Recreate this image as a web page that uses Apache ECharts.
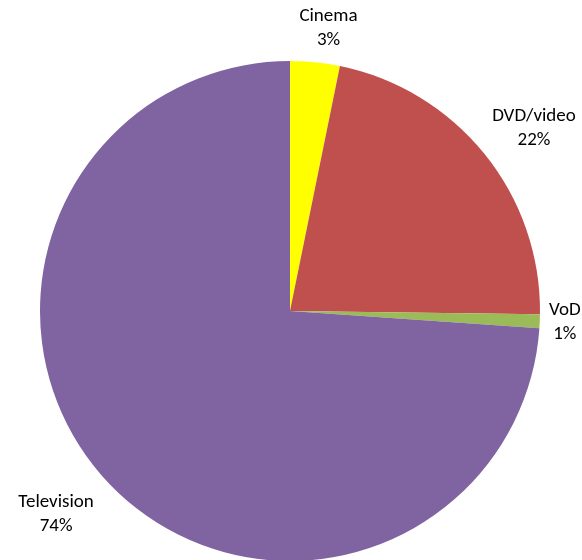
<!DOCTYPE html>
<html>
<head>
<meta charset="utf-8">
<script src="https://cdn.jsdelivr.net/npm/echarts@6/dist/echarts.min.js"></script>
<style>
  html, body { margin: 0; padding: 0; background: #ffffff; }
  #chart { width: 582px; height: 560px; }
</style>
</head>
<body>
<div id="chart"></div>
<script>
// Share of viewing by platform
var categories = ['Cinema', 'DVD/video', 'VoD', 'Television'];
var shares = [3.2, 22.0, 0.9, 73.9];
var colors = ['#FFFF00', '#C0504D', '#9BBB59', '#8064A2'];

var CX = 290, CY = 311, R = 250;
// label placement: distance of the label centre from the pie centre,
// and a small angular nudge (degrees) from the slice's mid-angle
var labelDist = [285, 305, 275, 310];
var labelNudge = [2, 2, 0, 2];

var total = shares.reduce(function (a, b) { return a + b; }, 0);
var midAngles = [];
(function () {
  var acc = 0;
  for (var i = 0; i < shares.length; i++) {
    midAngles.push((acc + shares[i] / 2) / total * 2 * Math.PI);
    acc += shares[i];
  }
})();

var chart = echarts.init(document.getElementById('chart'), null, { renderer: 'canvas' });
chart.setOption({
  animation: false,
  series: [{
    type: 'pie',
    center: [CX, CY],
    radius: [0, R],
    startAngle: 90,
    clockwise: true,
    avoidLabelOverlap: false,
    silent: true,
    itemStyle: { borderWidth: 0 },
    label: {
      show: true,
      position: 'outside',
      color: '#000000',
      fontFamily: 'Carlito, Lato, sans-serif',
      fontSize: 19,
      lineHeight: 24,
      align: 'center',
      formatter: function (p) {
        return p.name + '\n' + Math.round(p.percent) + '%';
      }
    },
    labelLine: { show: false },
    labelLayout: function (params) {
      var i = params.dataIndex;
      var a = midAngles[i] + labelNudge[i] * Math.PI / 180;
      return {
        x: CX + labelDist[i] * Math.sin(a),
        y: CY - labelDist[i] * Math.cos(a),
        align: 'center',
        verticalAlign: 'middle'
      };
    },
    data: categories.map(function (c, i) {
      return { name: c, value: shares[i], itemStyle: { color: colors[i] } };
    })
  }]
});
</script>
</body>
</html>
